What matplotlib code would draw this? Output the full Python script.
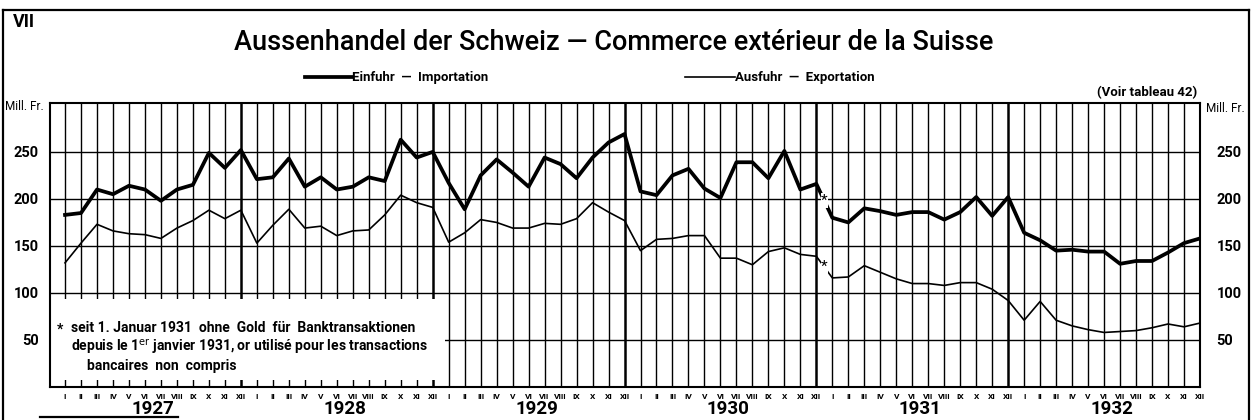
import matplotlib.pyplot as plt
from matplotlib.lines import Line2D
from matplotlib.patches import Rectangle

W, H = 1257, 420

years = ['1927', '1928', '1929', '1930', '1931', '1932']
months = ['I', 'II', 'III', 'IV', 'V', 'VI', 'VII', 'VIII', 'IX', 'X', 'XI', 'XII']

# Mill. Fr. per month, January 1927 .. December 1932
imports = [183, 185, 210, 205, 214, 210, 198, 210, 215, 249, 233, 252,
           221, 223, 243, 213, 223, 210, 213, 223, 219, 263, 244, 250,
           217, 189, 225, 242, 228, 213, 244, 237, 222, 244, 260, 269,
           208, 204, 225, 232, 211, 201, 239, 239, 222, 251, 210, 216,
           180, 175, 190, 187, 183, 186, 186, 178, 186, 202, 182, 202,
           164, 156, 145, 146, 144, 144, 131, 134, 134, 143, 153, 158]
exports = [132, 153, 173, 166, 163, 162, 158, 169, 177, 188, 179, 188,
           153, 172, 189, 169, 171, 161, 166, 167, 183, 204, 196, 191,
           154, 164, 178, 175, 169, 169, 174, 173, 179, 196, 186, 177,
           145, 157, 158, 161, 161, 137, 137, 130, 144, 148, 141, 139,
           116, 117, 129, 122, 115, 110, 110, 108, 111, 111, 104, 92,
           71, 91, 71, 65, 61, 58, 59, 60, 63, 67, 64, 68]
y_ticks = [50, 100, 150, 200, 250]

plt.rcParams['font.family'] = ['Roboto', 'DejaVu Sans']


def fx(px):
    return px / W


def fy(py):
    return 1 - py / H


fig = plt.figure(figsize=(W / 100, H / 100), dpi=100)
ax = fig.add_axes([fx(50), fy(387), fx(1200) - fx(50), fy(103) - fy(387)])

n = len(imports)
xs = list(range(n))
ax.plot(xs, imports, color='black', lw=2.7, zorder=3)
ax.plot(xs, exports, color='black', lw=1.2, zorder=3)
ax.set_xlim(-0.94, n - 1)
ax.set_ylim(0, 302)

# month grid, year ends a little heavier
ax.set_xticks(xs)
ax.set_xticklabels(months * len(years), fontsize=6, fontweight='bold')
ax.tick_params(axis='x', length=0, pad=4)
ax.set_yticks(y_ticks)
ax.set_yticklabels([str(v) for v in y_ticks], fontsize=10.5, fontweight='bold')
ax.tick_params(axis='y', length=0, pad=8)
ax.grid(True, color='black', lw=1.0)
ax.set_axisbelow(True)
for i, gl in enumerate(ax.get_xgridlines()):
    if i % 12 == 11:
        gl.set_linewidth(1.8)
for sp in ax.spines.values():
    sp.set_linewidth(1.5)

sec = ax.secondary_yaxis('right')
sec.set_yticks(y_ticks)
sec.set_yticklabels([str(v) for v in y_ticks], fontsize=10.5, fontweight='bold')
sec.tick_params(length=0, pad=12)
sec.spines['right'].set_visible(False)

# footnote box covering the lower left of the grid
ax.add_patch(Rectangle((-0.94, 7), 24.7, 87, facecolor='white',
                       edgecolor='none', zorder=2))
note_kw = dict(transform=fig.transFigure, fontsize=10, fontweight='bold',
               va='center', ha='left', zorder=4)
fig.text(fx(57), fy(330), '*', **note_kw)
fig.text(fx(71), fy(328), 'seit 1. Januar 1931  ohne  Gold  für  Banktransaktionen', **note_kw)
fig.text(fx(71), fy(347), 'depuis le 1$^{\\mathrm{er}}$ janvier 1931, or utilisé pour les transactions', **note_kw)
fig.text(fx(87), fy(366), 'bancaires  non  compris', **note_kw)

# gold break marks between XII 1930 and I 1931
k = 47
for series in (imports, exports):
    ax.text(k + 0.5, (series[k] + series[k + 1]) / 2, '*', fontsize=11,
            ha='center', va='center', zorder=4,
            bbox=dict(facecolor='white', edgecolor='none', pad=0.3))

# year labels under the months
for j, yr in enumerate(years):
    ax.text(12 * j + 5.5, -23, yr, fontsize=13.5, fontweight='bold',
            ha='center', va='center', clip_on=False)

# header
fig.text(fx(24), fy(22), 'VII', fontsize=13, fontweight='bold', ha='center', va='center')
fig.text(fx(614), fy(43), 'Aussenhandel der Schweiz — Commerce extérieur de la Suisse',
         fontsize=19.5, fontweight='medium', ha='center', va='center')
fig.add_artist(Line2D([fx(305), fx(352)], [fy(77), fy(77)], color='black', lw=2.7))
fig.text(fx(352), fy(77), 'Einfuhr  —  Importation', fontsize=9.5, fontweight='bold',
         ha='left', va='center')
fig.add_artist(Line2D([fx(685), fx(735)], [fy(77), fy(77)], color='black', lw=1.2))
fig.text(fx(735), fy(77), 'Ausfuhr  —  Exportation', fontsize=9.5, fontweight='bold',
         ha='left', va='center')
fig.text(fx(1197), fy(93), '(Voir tableau 42)', fontsize=9.5, fontweight='bold',
         ha='right', va='center')
fig.text(fx(5), fy(106), 'Mill. Fr.', fontsize=8.5, ha='left', va='center')
fig.text(fx(1206), fy(108), 'Mill. Fr.', fontsize=8.5, ha='left', va='center')

# page frame
frame = dict(color='black', lw=1.6)
fig.add_artist(Line2D([fx(3), fx(3)], [fy(10), fy(420)], **frame))
fig.add_artist(Line2D([fx(3), fx(1249)], [fy(10), fy(10)], **frame))
fig.add_artist(Line2D([fx(1249), fx(1249)], [fy(10), fy(420)], **frame))
fig.add_artist(Line2D([fx(40), fx(178)], [fy(417), fy(417)], **frame))

fig.savefig('out.png', dpi=100)
